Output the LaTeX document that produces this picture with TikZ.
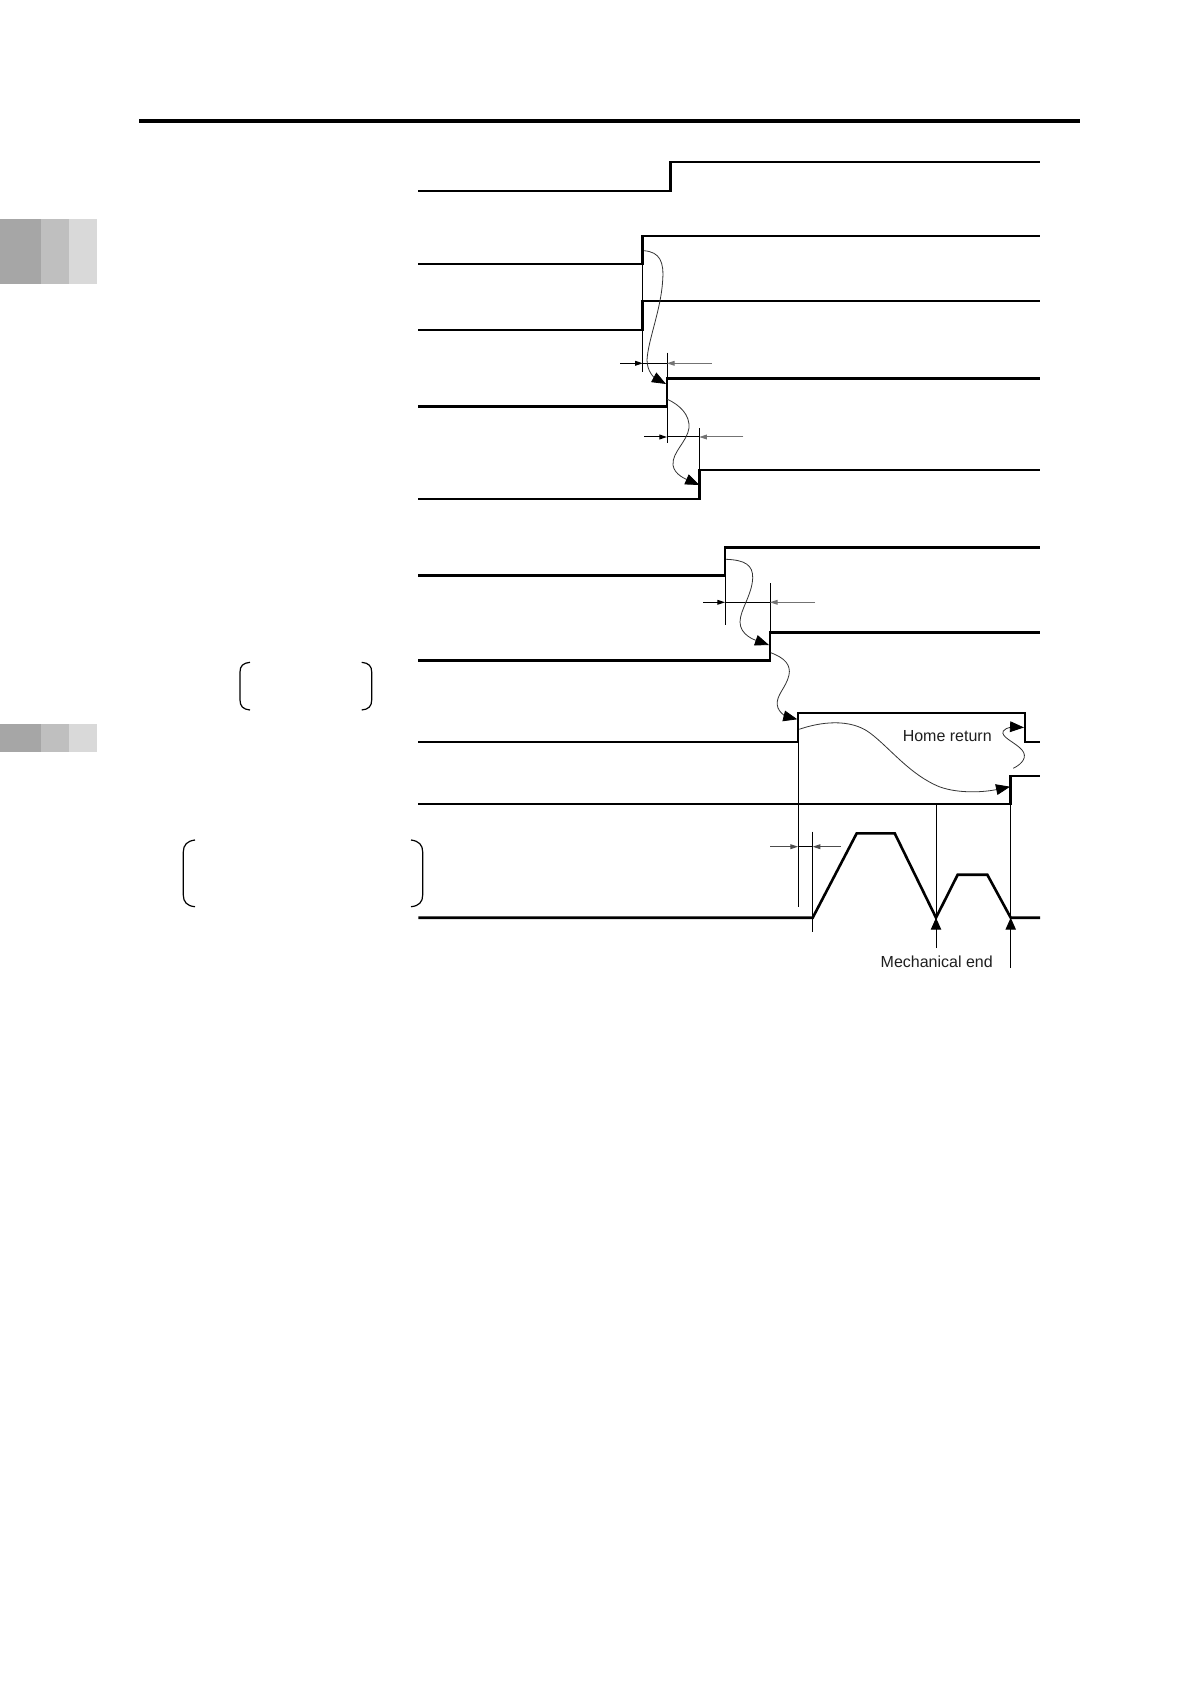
\documentclass[tikz,border=0pt]{standalone}
\usepackage{fontspec}
\setmainfont{Liberation Sans}
\usetikzlibrary{arrows.meta}
\begin{document}
\begin{tikzpicture}[x=0.5pt,y=-0.5pt,
  sig/.style={line width=1.3pt},
  thinl/.style={line width=0.5pt},
  wave/.style={line width=0.4pt, draw=black!80},
  bigtip/.style={-{Triangle[length=7pt,width=5.4pt,color=black]}},
  endtip/.style={-{Triangle[length=6pt,width=5.2pt]}},
  dimtip/.style={-{Triangle[length=3.8pt,width=2.4pt]}},
  brk/.style={line width=0.6pt},
  lbl/.style={font=\fontsize{8pt}{9pt}\selectfont, text=black!88, inner sep=0pt}]
\useasboundingbox (0,0) rectangle (1191,1684);
\fill[white] (0,0) rectangle (1191,1684);
% side tabs
\foreach \ya/\yb in {219/283.7, 724/751.7} {
  \fill[black!35] (0,\ya) rectangle (41,\yb);
  \fill[black!25] (41,\ya) rectangle (69,\yb);
  \fill[black!15] (69,\ya) rectangle (97,\yb);
}
% header rule
\draw[line width=2pt] (139,121) -- (1080,121);
% key coordinates
\coordinate (s1r) at (670.7,191);
\coordinate (s2r) at (642.7,264);
\coordinate (s3r) at (642.7,330);
\coordinate (s4r) at (667,406.7);
\coordinate (s5r) at (699.3,499);
\coordinate (s6r) at (725,575.7);
\coordinate (s7r) at (770,660.7);
\coordinate (s8r) at (798,742);
\coordinate (s8f) at (1025,713);
\coordinate (s9r) at (1010.7,804);
% signals
\draw[sig] (418.3,191) -- (s1r) -- (670.7,162) -- (1040,162);
\draw[sig] (418.3,264) -- (s2r) -- (642.7,236) -- (1040,236);
\draw[sig] (418.3,330) -- (s3r) -- (642.7,301) -- (1040,301);
\draw[sig] (418.3,406.7) -- (s4r) -- (667,378.7) -- (1040,378.7);
\draw[sig] (418.3,499) -- (s5r) -- (699.3,470) -- (1040,470);
\draw[sig] (418.3,575.7) -- (s6r) -- (725,547.3) -- (1040,547.3);
\draw[sig] (418.3,660.7) -- (s7r) -- (770,632.7) -- (1040,632.7);
\draw[sig] (418.3,742) -- (s8r) -- (798,713) -- (s8f) -- (1025,742) -- (1040,742);
\draw[sig] (418.3,804) -- (s9r) -- (1010.7,776) -- (1040,776);
% speed profile
\draw[sig, line join=miter] (418.3,917.7) -- (812.7,917.7) -- (856.7,833.3) -- (894.7,833.3)
  -- (936,917.7) -- (957.7,874.7) -- (987.3,874.7) -- (1010.7,917.7) -- (1040,917.7);
% extension lines
\draw[thinl] (642.7,264) -- (642.7,372.3);
\draw[thinl] (667,352.7) -- (667,443.3);
\draw[thinl] (699.3,428.3) -- (699.3,470);
\draw[thinl] (725,575.7) -- (725,625);
\draw[thinl] (770,583.3) -- (770,632.7);
\draw[thinl] (798,742) -- (798,906.7);
\draw[thinl] (812.7,831.7) -- (812.7,931.7);
% dimension arrows
\draw[thinl,dimtip] (620,363.3) -- (642.7,363.3);
\draw[thinl] (642.7,363.3) -- (667,363.3);
\draw[thinl,draw=black!55,dimtip] (711.7,363.3) -- (667,363.3);
\draw[thinl,dimtip] (644,437) -- (667,437);
\draw[thinl] (667,437) -- (699.3,437);
\draw[thinl,draw=black!55,dimtip] (743.3,437) -- (699.3,437);
\draw[thinl,dimtip] (703.3,602.3) -- (725,602.3);
\draw[thinl] (725,602.3) -- (770,602.3);
\draw[thinl,draw=black!55,dimtip] (815,602.3) -- (770,602.3);
\draw[thinl,draw=black!70,dimtip] (770,846.7) -- (798,846.7);
\draw[thinl] (798,846.7) -- (812.7,846.7);
\draw[thinl,draw=black!70,dimtip] (840.7,846.7) -- (812.7,846.7);
% cause-effect curves
\draw[wave,bigtip] (644,250.7) .. controls (660,252) and (664,262) .. (662.7,280)
  .. controls (661,310) and (648,340) .. (647,360)
  .. controls (647,372) and (655,378) .. (666,384);
\draw[wave,bigtip] (667.3,399.3) .. controls (680,405) and (690,415) .. (689,428)
  .. controls (687,442) and (672,452) .. (673,465)
  .. controls (674,475) and (688,480) .. (699.3,485);
\draw[wave,bigtip] (726,559.3) .. controls (745,560) and (753,565) .. (752.7,578)
  .. controls (752,595) and (740,610) .. (740,622)
  .. controls (740,635) and (755,640) .. (769,645);
\draw[wave,bigtip] (770.7,652.7) .. controls (785,658) and (791,665) .. (789,675)
  .. controls (786,688) and (776,695) .. (777.3,705)
  .. controls (778,713) and (788,717) .. (797.3,719.3);
\draw[wave,bigtip] (799.3,729.3) .. controls (820,722) and (850,718) .. (870,733)
  .. controls (890,748) and (910,775) .. (940,787)
  .. controls (960,794) and (985,792) .. (1010,786.7);
\draw[wave,bigtip] (1013.3,768.3) .. controls (1022,764) and (1028,757) .. (1022,750)
  .. controls (1015,742) and (1000,737) .. (1003.3,731)
  .. controls (1006,727) and (1015,727) .. (1024,727.5);
% mechanical end markers
\draw[thinl] (936,804) -- (936,917.7);
\draw[thinl,endtip] (936,948) -- (936,917.7);
\draw[thinl] (1010.7,804) -- (1010.7,917.7);
\draw[thinl,endtip] (1010.7,968) -- (1010.7,917.7);
% labels
\node[lbl] (home) at (947.2,735.7) {Home return};
\node[lbl] (mech) at (936.7,961.7) {Mechanical end};
% brackets
\draw[brk] (250,662.3) .. controls (243,663) and (240,666) .. (240,672) -- (240,700)
  .. controls (240,706) and (243,709.5) .. (250,710);
\draw[brk] (361.7,662.3) .. controls (368.7,663) and (371.7,666) .. (371.7,672) -- (371.7,700)
  .. controls (371.7,706) and (368.7,709.5) .. (361.7,710);
\draw[brk] (195,840) .. controls (187,841) and (183.3,845) .. (183.3,852) -- (183.3,895)
  .. controls (183.3,902) and (187,906) .. (195,906.7);
\draw[brk] (411,840) .. controls (419,841) and (422.7,845) .. (422.7,852) -- (422.7,895)
  .. controls (422.7,902) and (419,906) .. (411,906.7);
\end{tikzpicture}
\end{document}
